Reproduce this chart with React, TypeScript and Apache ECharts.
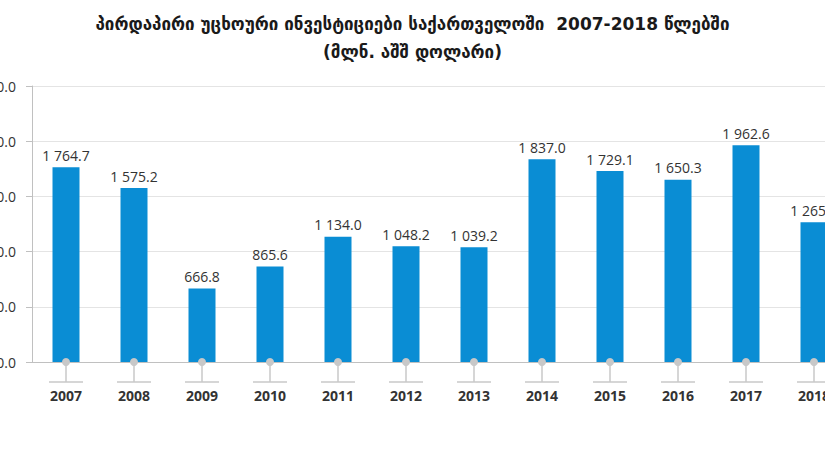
import React, { useEffect, useRef } from "react";
import * as echarts from "echarts";

const titleLine1 = "პირდაპირი უცხოური ინვესტიციები საქართველოში  2007-2018 წლებში";
const titleLine2 = "(მლნ. აშშ დოლარი)";
const years = ["2007", "2008", "2009", "2010", "2011", "2012", "2013", "2014", "2015", "2016", "2017", "2018"];
const fdiValues = [1764.7, 1575.2, 666.8, 865.6, 1134.0, 1048.2, 1039.2, 1837.0, 1729.1, 1650.3, 1962.6, 1265.0];

function fmt(v: number): string {
  const s = v.toFixed(1);
  const [i, d] = s.split(".");
  return i.replace(/\B(?=(\d{3})+(?!\d))/g, " ") + "." + d;
}

export default function App() {
  const ref = useRef<HTMLDivElement>(null);
  useEffect(() => {
    if (!ref.current) return;
    const chart = echarts.init(ref.current, null, { renderer: "svg" });
    chart.setOption({
      animation: false,
      backgroundColor: "#ffffff",
      title: [
        {
          text: titleLine1,
          left: "center",
          top: 10,
          textStyle: { fontFamily: "DejaVu Sans", fontWeight: "bold", fontSize: 17, color: "#1a1a1a" },
        },
        {
          text: titleLine2,
          left: "center",
          top: 38,
          textStyle: { fontFamily: "DejaVu Sans", fontWeight: "bold", fontSize: 17, color: "#1a1a1a" },
        },
      ],
      grid: { left: 32, top: 86, width: 816, height: 276, containLabel: false, outerBoundsMode: "none" },
      xAxis: {
        type: "category",
        data: years,
        axisLine: { lineStyle: { color: "#c0c0c0", width: 1 } },
        axisTick: { show: false },
        axisLabel: {
          margin: 26,
          fontFamily: "Open Sans",
          fontWeight: "bold",
          fontSize: 14,
          color: "#333333",
        },
      },
      yAxis: {
        type: "value",
        min: 0,
        max: 2500,
        interval: 500,
        axisLine: { show: true, lineStyle: { color: "#c0c0c0" } },
        axisTick: { show: true, length: 6, lineStyle: { color: "#c0c0c0" } },
        splitLine: { lineStyle: { color: "#e4e4e4" } },
        axisLabel: {
          margin: 16,
          formatter: (v: number) => fmt(v),
          fontFamily: "Open Sans",
          fontSize: 14,
          color: "#333333",
        },
      },
      series: [
        {
          type: "bar",
          data: fdiValues,
          barWidth: 27,
          itemStyle: { color: "#0a8dd4" },
          label: {
            show: true,
            position: "top",
            distance: 5,
            formatter: (p: any) => fmt(p.value),
            fontFamily: "Open Sans",
            fontSize: 14,
            color: "#333333",
          },
          z: 2,
        },
        {
          type: "custom",
          data: years.map((_, i) => [i, 0]),
          clip: false,
          z: 5,
          silent: true,
          renderItem: (params: any, api: any) => {
            const p = api.coord([api.value(0), 0]);
            const x = p[0];
            const y = p[1];
            return {
              type: "group",
              children: [
                {
                  type: "line",
                  shape: { x1: x, y1: y, x2: x, y2: y + 20 },
                  style: { stroke: "#c8c8c8", lineWidth: 1.5 },
                },
                {
                  type: "line",
                  shape: { x1: x - 17, y1: y + 20, x2: x + 17, y2: y + 20 },
                  style: { stroke: "#c8c8c8", lineWidth: 1.5 },
                },
                {
                  type: "circle",
                  shape: { cx: x, cy: y, r: 4 },
                  style: { fill: "#c8c8c8" },
                },
              ],
            };
          },
        },
      ],
    });
    return () => chart.dispose();
  }, []);
  return (
    <div
      ref={ref}
      style={{ position: "absolute", left: 0, top: 0, width: 825, height: 465 }}
    />
  );
}
